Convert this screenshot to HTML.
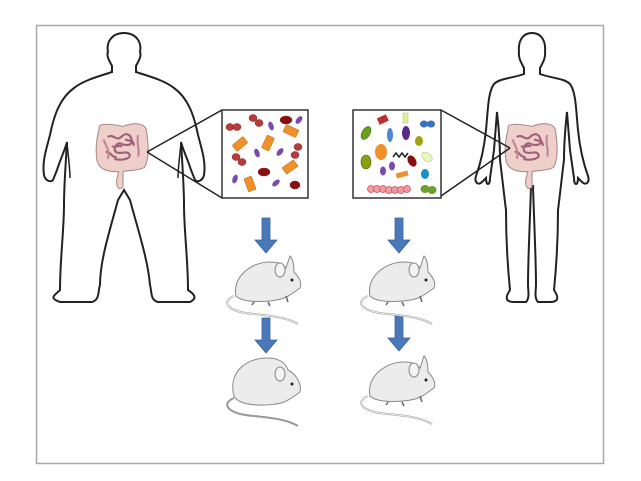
<!DOCTYPE html>
<html><head><style>body{margin:0;background:#fff}svg{display:block}</style></head><body>
<svg width="641" height="481" viewBox="0 0 641 481" xmlns="http://www.w3.org/2000/svg">
<defs>
<g id="gut">
<path d="M-22,-18 C-24,-24 -10,-22 0,-20 C10,-24 22,-24 22,-14 C24,0 24,10 20,18 C12,22 4,20 0,22 L0,36 C-4,40 -6,36 -6,30 L-4,22 C-14,22 -22,20 -24,12 C-26,0 -24,-10 -22,-18Z" fill="#efcfca" stroke="#a88c88" stroke-width="1"/>
<path d="M-14,-10 c4,-4 8,4 12,0 s8,-4 10,2 s-6,6 -10,4 s-8,6 -4,8 s10,-2 12,2 s-8,6 -14,4 M-16,4 c4,-2 6,6 10,4 M2,-8 c4,2 8,0 8,6 M-10,-2 c3,3 6,-2 9,1" fill="none" stroke="#a0607a" stroke-width="2"/>
<path d="M-18,-8 c2,6 6,10 4,18 M14,-12 c-2,8 2,14 0,20" fill="none" stroke="#c08898" stroke-width="2"/>
</g>
<g id="mouse">
<path d="M-30,14 C-44,20 -36,30 -10,32 C10,34 24,36 34,42" fill="none" stroke="#999" stroke-width="2"/>
<path d="M-30,14 C-44,20 -36,30 -10,32 C10,34 24,36 34,42" fill="none" stroke="#eee" stroke-width="1"/>
<path d="M-28,14 C-32,-4 -14,-20 6,-20 C14,-20 18,-18 22,-14 L26,-26 C30,-22 30,-14 30,-10 C36,-4 38,2 36,6 C30,10 26,14 20,16 C10,20 -20,22 -28,14Z" fill="#ececec" stroke="#888" stroke-width="1"/>
<ellipse cx="16" cy="-12" rx="5" ry="7" fill="#f4f4f4" stroke="#888" stroke-width="1"/>
<circle cx="28" cy="-2" r="1.5" fill="#222"/>
<path d="M4,20 l2,4 M-10,20 l-2,3 M22,14 l2,6" stroke="#666" stroke-width="1.5"/>
</g>
<g id="arrow"><path d="M-4,0 h8 v22 h7 l-11,13 l-11,-13 h7z" fill="#4a78b8" stroke="#3a64a0" stroke-width="0.8"/></g>
</defs>
<rect x="36.5" y="25.5" width="567" height="438" fill="#fff" stroke="#a8a8a8" stroke-width="1.5"/>

<!-- obese figure -->
<path d="M124,33 C112,33 106,42 108,52 C106,56 110,62 112,66 L112,72 C100,76 84,80 74,88 C60,98 54,115 50,135 C46,150 42,162 44,175 C45,180 50,183 53,180 L57,170 C60,160 65,150 67,142 C66,160 64,185 64,205 C64,230 60,260 60,290 C55,295 48,298 60,302 L92,302 C100,300 98,290 100,285 C100,260 110,230 118,200 L124,190 L130,200 C138,230 148,260 150,285 C152,292 150,300 158,302 L190,302 C198,298 194,294 188,290 C188,260 184,230 184,205 C184,185 182,160 181,142 C183,150 188,160 191,170 L195,180 C198,183 203,180 204,175 C206,162 202,150 198,135 C194,115 188,98 174,88 C164,80 148,76 136,72 L136,66 C138,62 142,56 140,52 C142,42 136,33 124,33Z" fill="#fff" stroke="#222" stroke-width="2"/>
<path d="M67,142 C68,155 70,168 70,178 M181,142 C180,155 178,168 178,178" fill="none" stroke="#222" stroke-width="1.5"/>
<use href="#gut" transform="translate(123,148) scale(1.08)"/>
<path d="M147,152 L222,110 M147,152 L222,198" stroke="#222" stroke-width="1.5"/>

<!-- thin figure -->
<path d="M532,33 C522,33 518,42 519,52 C518,58 522,64 524,68 L524,74 C514,78 500,78 494,84 C488,92 488,110 486,130 C484,150 480,165 476,176 C474,182 478,186 482,182 L486,178 C486,186 490,186 490,178 L494,150 L497,112 C499,130 500,150 500,160 C502,175 504,195 506,210 C506,240 508,270 510,290 C506,296 504,302 514,302 L526,302 C530,298 528,290 528,285 C528,260 530,220 531,186 L533,186 C534,220 536,260 536,285 C536,290 534,298 538,302 L550,302 C560,302 558,296 554,290 C556,270 558,240 558,210 C560,195 562,175 564,160 C564,150 565,130 567,112 L570,150 L574,178 C574,186 578,186 578,178 L582,182 C586,186 590,182 588,176 C584,165 580,150 578,130 C576,110 576,92 570,84 C564,78 550,78 540,74 L540,68 C542,64 546,58 545,52 C546,42 542,33 532,33Z" fill="#fff" stroke="#222" stroke-width="2"/>
<use href="#gut" transform="translate(532,148) scale(1.08)"/>
<path d="M510,148 L441,110 M510,148 L441,196" stroke="#222" stroke-width="1.5"/>

<!-- left box -->
<rect x="222" y="110" width="86" height="88" fill="#fff" stroke="#333" stroke-width="1.5"/>
<g stroke-width="0.5" stroke="#7a2020">
<ellipse cx="230" cy="127" rx="4" ry="3.5" fill="#b83a3a"/><ellipse cx="237" cy="127" rx="4" ry="3.5" fill="#b83a3a"/>
<ellipse cx="253" cy="118" rx="4" ry="3.5" fill="#b83a3a"/><ellipse cx="259" cy="123" rx="4" ry="3.5" fill="#b83a3a"/>
<ellipse cx="286" cy="120" rx="6" ry="4" fill="#8a1010"/>
<ellipse cx="236" cy="157" rx="4" ry="3.5" fill="#b83a3a"/><ellipse cx="242" cy="162" rx="4" ry="3.5" fill="#b83a3a"/>
<ellipse cx="298" cy="147" rx="4" ry="3.5" fill="#b83a3a"/><ellipse cx="295" cy="155" rx="4" ry="3.5" fill="#b83a3a"/>
<ellipse cx="264" cy="172" rx="6" ry="4" fill="#8a1010"/>
<ellipse cx="295" cy="185" rx="5" ry="4" fill="#8a1010"/>
</g>
<g fill="#f0902a" stroke="#c06a10" stroke-width="0.5">
<rect x="236" y="137" width="8" height="14" rx="1" transform="rotate(50 240 144)"/>
<rect x="264" y="136" width="8" height="14" rx="1" transform="rotate(25 268 143)"/>
<rect x="287" y="124" width="8" height="14" rx="1" transform="rotate(-65 291 131)"/>
<rect x="286" y="160" width="8" height="14" rx="1" transform="rotate(55 290 167)"/>
<rect x="246" y="177" width="8" height="14" rx="1" transform="rotate(-20 250 184)"/>
</g>
<g fill="#7a4ab0">
<ellipse cx="271" cy="126" rx="2.5" ry="4.5" transform="rotate(-20 271 126)"/>
<ellipse cx="299" cy="120" rx="2.5" ry="4.5" transform="rotate(40 299 120)"/>
<ellipse cx="257" cy="153" rx="2.5" ry="4.5" transform="rotate(-20 257 153)"/>
<ellipse cx="280" cy="152" rx="2.5" ry="4.5" transform="rotate(40 280 152)"/>
<ellipse cx="235" cy="179" rx="2.5" ry="4.5" transform="rotate(20 235 179)"/>
<ellipse cx="276" cy="183" rx="2.5" ry="4.5" transform="rotate(50 276 183)"/>
</g>

<!-- right box -->
<rect x="353" y="110" width="88" height="88" fill="#fff" stroke="#333" stroke-width="1.5"/>
<ellipse cx="366" cy="133" rx="4" ry="7" fill="#6aa020" stroke="#3a6010" stroke-width="0.6" transform="rotate(30 366 133)"/>
<rect x="378" y="116" width="10" height="7" fill="#b83030" transform="rotate(-25 383 120)"/>
<rect x="403" y="113" width="5" height="10" fill="#dff0a0" stroke="#a8c060" stroke-width="0.5"/>
<ellipse cx="424" cy="124" rx="4" ry="3.5" fill="#3a70c0"/><ellipse cx="431" cy="124" rx="4" ry="3.5" fill="#3a70c0"/>
<ellipse cx="390" cy="135" rx="3" ry="7" fill="#4a88d0"/>
<ellipse cx="406" cy="133" rx="4" ry="7" fill="#5a2a8a"/>
<ellipse cx="419" cy="141" rx="4" ry="5" fill="#a0a010"/>
<ellipse cx="381" cy="152" rx="6" ry="8" fill="#f0902a"/>
<path d="M393,157 l3,-4 l3,4 l3,-4 l3,4 l3,-4" fill="none" stroke="#222" stroke-width="1.5"/>
<ellipse cx="366" cy="162" rx="5" ry="7" fill="#8aa010" stroke="#4a6010" stroke-width="0.6"/>
<ellipse cx="383" cy="171" rx="3" ry="4.5" fill="#7a4ab0"/>
<ellipse cx="392" cy="166" rx="3" ry="4.5" fill="#7a4ab0"/>
<ellipse cx="412" cy="161" rx="4" ry="6" fill="#8a1010" transform="rotate(-30 412 161)"/>
<ellipse cx="427" cy="157" rx="4" ry="6" fill="#e8f8c0" stroke="#a8c060" stroke-width="0.5" transform="rotate(-50 427 157)"/>
<rect x="396" y="172" width="12" height="5" fill="#f0902a" transform="rotate(-15 402 174)"/>
<ellipse cx="425" cy="174" rx="4" ry="5" fill="#1a90c0"/>
<g fill="#f09aa0" stroke="#c05060" stroke-width="0.7">
<circle cx="371" cy="189" r="3.5"/><circle cx="377" cy="189" r="3.5"/><circle cx="383" cy="189" r="3.5"/><circle cx="389" cy="190" r="3.5"/><circle cx="395" cy="190" r="3.5"/><circle cx="401" cy="190" r="3.5"/><circle cx="407" cy="189" r="3.5"/>
</g>
<ellipse cx="425" cy="189" rx="4.5" ry="4" fill="#6aa030"/><ellipse cx="432" cy="190" rx="4.5" ry="4" fill="#6aa030"/>

<!-- arrows -->
<use href="#arrow" x="266" y="218"/>
<use href="#arrow" x="266" y="318"/>
<use href="#arrow" x="399" y="218"/>
<use href="#arrow" x="399" y="316"/>

<!-- mice -->
<use href="#mouse" x="264" y="282"/>
<use href="#mouse" x="398" y="282"/>
<g transform="translate(264,384)">
<path d="M-30,14 C-44,20 -36,30 -10,32 C10,34 24,36 34,42" fill="none" stroke="#999" stroke-width="2"/>
<path d="M-30,12 C-36,-10 -20,-26 4,-26 C16,-26 22,-20 24,-14 C32,-10 38,0 36,8 C30,12 26,16 20,18 C10,22 -24,24 -30,12Z" fill="#ececec" stroke="#888" stroke-width="1"/>
<ellipse cx="16" cy="-10" rx="5" ry="7" fill="#f4f4f4" stroke="#888" stroke-width="1"/>
<circle cx="28" cy="0" r="1.5" fill="#222"/>
</g>
<use href="#mouse" x="398" y="382"/>
</svg>
</body></html>
